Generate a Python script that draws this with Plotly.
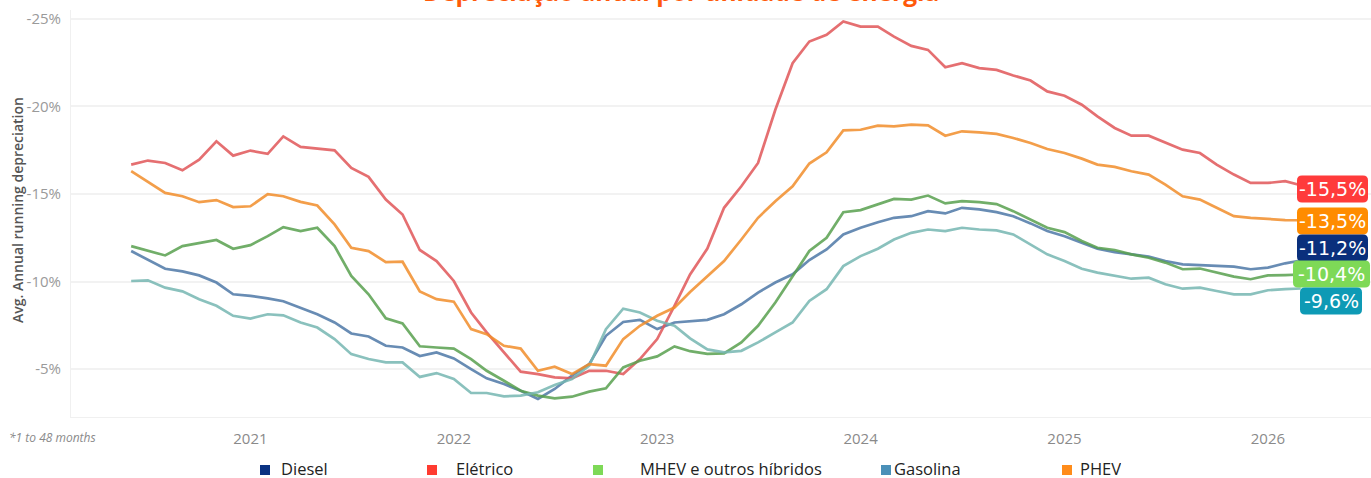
import plotly.graph_objects as go
import pandas as pd

# ---- data ----
months = pd.date_range("2020-06-01", "2026-03-01", freq="MS")

diesel = [11.74, 11.26, 10.73, 10.58, 10.35, 9.94, 9.27, 9.18, 9.04, 8.87, 8.51, 8.13, 7.66, 7.03, 6.86, 6.33, 6.23, 5.74,
          5.95, 5.61, 5.00, 4.47, 4.14, 3.76, 3.29, 3.86, 4.62, 5.28, 6.90, 7.69, 7.81, 7.28, 7.66, 7.74, 7.81,
          8.13, 8.70, 9.37, 9.94, 10.41, 11.23, 11.83, 12.69, 13.07, 13.39, 13.64, 13.73, 14.02, 13.89, 14.21, 14.12, 13.96,
          13.73, 13.32, 12.88, 12.59, 12.21, 11.87, 11.68, 11.55, 11.42, 11.17, 10.98, 10.94, 10.88, 10.85, 10.70, 10.79, 11.04, 11.2]
eletrico = [16.68, 16.91, 16.77, 16.35, 16.96, 18.01, 17.19, 17.48, 17.29, 18.29, 17.69, 17.61, 17.49, 16.49, 15.98, 14.68, 13.83, 11.8,
            11.17, 10.03, 8.23, 7.09, 5.95, 4.85, 4.71, 4.52, 4.47, 4.90, 4.90, 4.71, 5.57, 6.71, 8.61, 10.4, 11.88,
            14.21, 15.44, 16.77, 19.81, 22.47, 23.71, 24.09, 24.85, 24.56, 24.56, 23.99, 23.46, 23.23, 22.24, 22.47, 22.19, 22.09,
            21.77, 21.48, 20.86, 20.61, 20.10, 19.43, 18.77, 18.33, 18.33, 17.95, 17.53, 17.34, 16.68, 16.11, 15.63, 15.63, 15.73, 15.5]
mhev = [12.02, 11.78, 11.49, 12.02, 12.18, 12.37, 11.87, 12.08, 12.59, 13.11, 12.88, 13.07, 12.02, 10.32, 9.27, 7.90, 7.60, 6.3,
        6.23, 6.17, 5.57, 4.90, 4.33, 3.76, 3.48, 3.33, 3.42, 3.71, 3.90, 5.09, 5.47, 5.72, 6.29, 6.02, 5.87,
        5.89, 6.52, 7.47, 8.80, 10.32, 11.74, 12.50, 13.96, 14.08, 14.40, 14.72, 14.68, 14.91, 14.46, 14.59, 14.53, 14.42,
        14.02, 13.54, 13.07, 12.82, 12.31, 11.93, 11.80, 11.55, 11.36, 11.08, 10.70, 10.74, 10.51, 10.28, 10.13, 10.35, 10.37, 10.4]
gasolina = [10.03, 10.07, 9.65, 9.44, 8.99, 8.61, 8.04, 7.88, 8.13, 8.07, 7.66, 7.37, 6.71, 5.85, 5.57, 5.38, 5.38, 4.55,
            4.77, 4.43, 3.63, 3.63, 3.44, 3.48, 3.67, 4.09, 4.43, 5.19, 7.28, 8.45, 8.23, 7.76, 7.47, 6.75, 6.12,
            5.95, 6.04, 6.52, 7.09, 7.66, 8.89, 9.56, 10.88, 11.45, 11.87, 12.40, 12.78, 12.97, 12.88, 13.07, 12.97, 12.92,
            12.69, 12.12, 11.55, 11.17, 10.73, 10.51, 10.32, 10.16, 10.22, 9.84, 9.59, 9.65, 9.46, 9.27, 9.27, 9.50, 9.56, 9.6]
phev = [16.30, 15.67, 15.06, 14.87, 14.53, 14.65, 14.25, 14.30, 14.99, 14.87, 14.55, 14.34, 13.26, 11.93, 11.74, 11.11, 11.13, 9.43,
        8.99, 8.85, 7.28, 6.99, 6.33, 6.17, 4.90, 5.13, 4.71, 5.28, 5.19, 6.71, 7.47, 8.04, 8.51, 9.4, 10.32,
        11.17, 12.40, 13.64, 14.59, 15.44, 16.74, 17.38, 18.63, 18.67, 18.90, 18.86, 18.96, 18.92, 18.33, 18.58, 18.52, 18.43,
        18.20, 17.91, 17.57, 17.34, 17.02, 16.68, 16.55, 16.30, 16.11, 15.54, 14.87, 14.68, 14.21, 13.73, 13.64, 13.58, 13.51, 13.5]

series_names = ["Diesel", "Elétrico", "MHEV e outros híbridos", "Gasolina", "PHEV"]
series_values = [diesel, eletrico, mhev, gasolina, phev]
line_colors = ["#4e79a7", "#e15759", "#59a14f", "#76b7b2", "#f28e2b"]
legend_colors = ["#0a3282", "#ff3b30", "#7ed957", "#4a90b8", "#ff8c1a"]
label_colors = ["#0a2f7c", "#ff3b3b", "#7ed957", "#0e9ab5", "#ff8c00"]

y_tick_vals = [-25, -20, -15, -10, -5]
y_tick_text = ["-25%", "-20%", "-15%", "-10%", "-5%"]
x_tick_vals = ["2021-01-01", "2022-01-01", "2023-01-01", "2024-01-01", "2025-01-01", "2026-01-01"]
x_tick_text = ["2021", "2022", "2023", "2024", "2025", "2026"]

title_text = "Depreciação anual por unidade de energia"

# ---- figure ----
W, H = 1371, 478
ML, MR, MT, MB = 71, 0, 10, 61
PW, PH = W - ML - MR, H - MT - MB

fig = go.Figure()
for name, vals, col in zip(series_names, series_values, line_colors):
    fig.add_trace(go.Scatter(x=months, y=[-v for v in vals], mode="lines", name=name,
                             line=dict(color=col, width=2.7), opacity=0.85, showlegend=False))

def px_x(p):
    return (p - ML) / PW

def px_y(p):
    return 1 - (p - MT) / PH

annotations = []
shapes = []

# title (partly cut off at top, as in the source image)
annotations.append(dict(text="<b>" + title_text + "</b>", xref="paper", yref="paper",
                        x=px_x(681), y=px_y(-8), xanchor="center", yanchor="middle",
                        showarrow=False, font=dict(family="Open Sans", size=24.5, color="#ff5a0a")))

# y-axis title
annotations.append(dict(text="Avg. Annual running depreciation", xref="paper", yref="paper",
                        x=px_x(17), y=px_y(210), textangle=-90, xanchor="center", yanchor="middle",
                        showarrow=False, font=dict(family="Open Sans", size=14, color="#555555", weight=600)))

# footnote
annotations.append(dict(text="<i>*1 to 48 months</i>", xref="paper", yref="paper",
                        x=px_x(7), y=px_y(437), xanchor="left", yanchor="middle",
                        showarrow=False, font=dict(family="Open Sans", size=12, color="#8a8a8a")))

# custom legend
legend_marker_px = [265, 432, 598, 886, 1067]
legend_text_px = [280, 455, 639, 893, 1079]
for name, col, mx, tx in zip(series_names, legend_colors, legend_marker_px, legend_text_px):
    shapes.append(dict(type="rect", xref="paper", yref="paper",
                       x0=px_x(mx - 5), x1=px_x(mx + 5), y0=px_y(475), y1=px_y(465),
                       fillcolor=col, line=dict(width=0)))
    annotations.append(dict(text=name, xref="paper", yref="paper", x=px_x(tx), y=px_y(468),
                            xanchor="left", yanchor="middle", showarrow=False, height=18, valign="middle",
                            borderpad=0,
                            font=dict(family="Open Sans", size=16.5, color="#222222")))

# end labels (rounded boxes)
def rounded_rect(x0, x1, y0, y1, r):
    X = lambda p: px_x(p)
    Y = lambda p: px_y(p)
    return (f"M {X(x0 + r)} {Y(y0)} L {X(x1 - r)} {Y(y0)} Q {X(x1)} {Y(y0)} {X(x1)} {Y(y0 + r)} "
            f"L {X(x1)} {Y(y1 - r)} Q {X(x1)} {Y(y1)} {X(x1 - r)} {Y(y1)} "
            f"L {X(x0 + r)} {Y(y1)} Q {X(x0)} {Y(y1)} {X(x0)} {Y(y1 - r)} "
            f"L {X(x0)} {Y(y0 + r)} Q {X(x0)} {Y(y0)} {X(x0 + r)} {Y(y0)} Z")

label_order = [1, 4, 0, 2, 3]        # Elétrico, PHEV, Diesel, MHEV, Gasolina
label_center_px = [189, 221, 248, 274, 301]
label_box_px = [(1297, 1368), (1297, 1368), (1297, 1368), (1293, 1370), (1300, 1362)]
for idx, cy, (bx0, bx1) in zip(label_order, label_center_px, label_box_px):
    last = series_values[idx][-1]
    txt = "-" + f"{last:.1f}".replace(".", ",") + "%"
    shapes.append(dict(type="path", xref="paper", yref="paper",
                       path=rounded_rect(bx0, bx1, cy - 13.5, cy + 13.5, 5),
                       fillcolor=label_colors[idx], line=dict(width=0)))
    annotations.append(dict(text=txt, xref="paper", yref="paper", x=px_x((bx0 + bx1) / 2), y=px_y(cy),
                            xanchor="center", yanchor="middle", showarrow=False,
                            font=dict(family="DejaVu Sans", size=19, color="white")))

fig.update_layout(
    width=W, height=H,
    margin=dict(l=ML, r=MR, t=MT, b=MB, autoexpand=False),
    paper_bgcolor="white", plot_bgcolor="white",
    showlegend=False,
    annotations=annotations, shapes=shapes,
    xaxis=dict(type="date", range=["2020-02-14", "2026-07-05"], tickvals=x_tick_vals, ticktext=x_tick_text,
               showgrid=False, zeroline=False, showline=True, linecolor="#f0f0f0", linewidth=1,
               ticks="", ticklabelstandoff=8,
               tickfont=dict(family="Open Sans", size=15, color="#8a8a8a")),
    yaxis=dict(range=[-2.26, -25.51], tickvals=y_tick_vals, ticktext=y_tick_text,
               showgrid=True, gridcolor="#f2f2f2", gridwidth=2, zeroline=False,
               showline=True, linecolor="#f0f0f0", linewidth=1, ticks="", ticklabelstandoff=6,
               tickfont=dict(family="Open Sans", size=15, color="#9a9a9a")),
)

fig.write_html("out.html", config={"displayModeBar": False},
               post_script="document.body.style.margin='0';document.body.style.overflow='hidden';")
